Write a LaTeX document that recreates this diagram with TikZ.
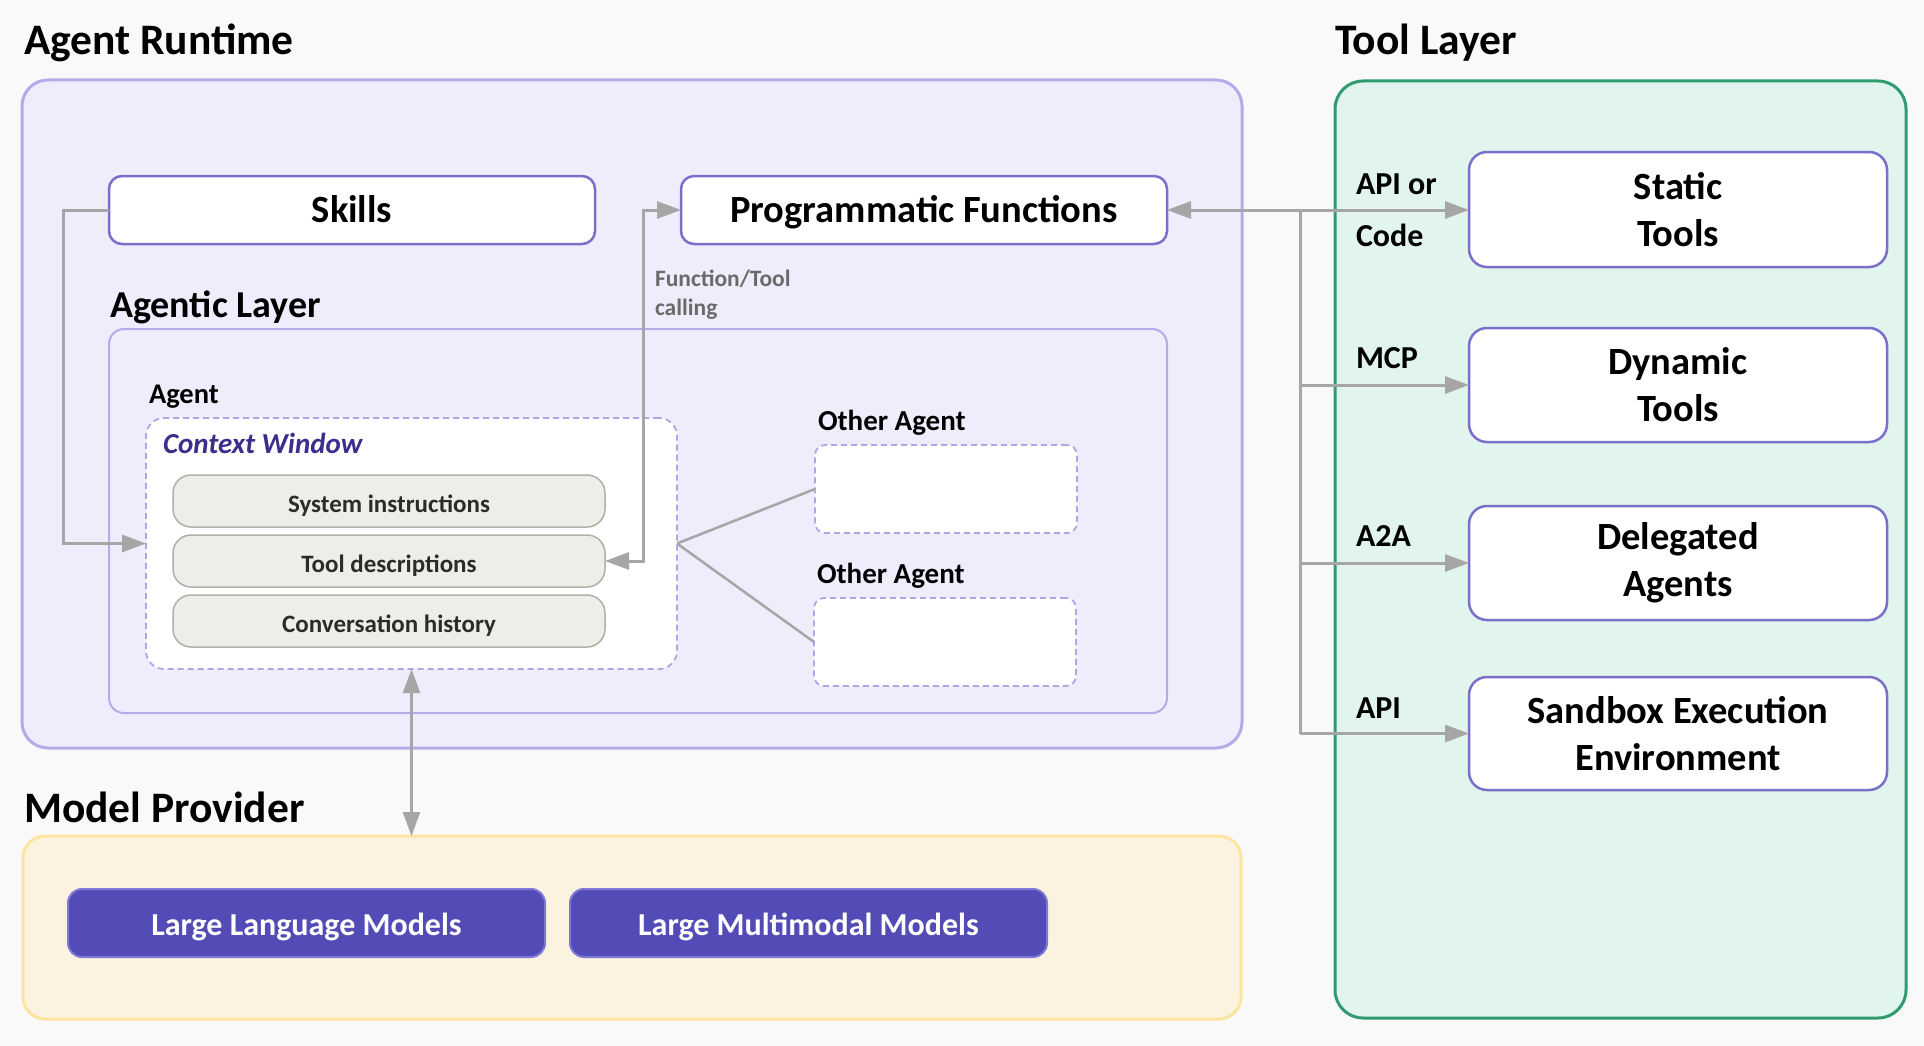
\documentclass[tikz,border=0pt]{standalone}
\usepackage{fontspec}
\setmainfont{Carlito}
\usetikzlibrary{arrows.meta}
\definecolor{bg}{HTML}{F9F9F9}
\definecolor{arfill}{HTML}{EFEDFC}
\definecolor{arline}{HTML}{B4ABE8}
\definecolor{boxline}{HTML}{7B70C9}
\definecolor{tlfill}{HTML}{E1F4EE}
\definecolor{tlline}{HTML}{2F9B6F}
\definecolor{mpfill}{HTML}{FBF3DF}
\definecolor{mpline}{HTML}{FDE4A0}
\definecolor{dashline}{HTML}{B0A6E6}
\definecolor{pillfill}{HTML}{EEEEE8}
\definecolor{pillline}{HTML}{B0B0A8}
\definecolor{llmfill}{HTML}{544CB6}
\definecolor{llmline}{HTML}{8078D8}
\definecolor{arrowc}{HTML}{A6A6A6}
\definecolor{cwtext}{HTML}{3B2E8C}
\definecolor{greytext}{HTML}{6A6A6A}
\definecolor{pilltext}{HTML}{2B2B2B}
\begin{document}
\begin{tikzpicture}[x=1pt,y=-1pt,
  region/.style={draw, inner sep=0pt, outer sep=0pt, line width=3pt},
  wbox/.style={draw=boxline, fill=white, line width=2.5pt, inner sep=0pt, outer sep=0pt, rounded corners=13pt,
    align=center, font=\bfseries\fontsize{38.5}{47}\selectfont},
  oneline/.style={text height=24pt, text depth=0pt},
  tbox/.style={wbox, rounded corners=18pt, minimum width=418pt},
  dbox/.style={draw=dashline, fill=white, line width=1.8pt, dash pattern=on 6pt off 4pt, inner sep=0pt, outer sep=0pt},
  pill/.style={draw=pillline, fill=pillfill, line width=1.5pt, rounded corners=18pt, inner sep=0pt, outer sep=0pt,
    minimum width=432pt, minimum height=52pt, text=pilltext, text height=22pt, text depth=0pt,
    font=\bfseries\fontsize{25}{30}\selectfont},
  mbox/.style={draw=llmline, fill=llmfill, line width=2pt, rounded corners=14pt, inner sep=0pt, outer sep=0pt,
    minimum width=477pt, minimum height=68pt, text=white, text height=24pt, text depth=0pt,
    font=\bfseries\fontsize{32}{36}\selectfont},
  lbl/.style={anchor=base west, inner sep=0pt, outer sep=0pt},
  title/.style={lbl, font=\bfseries\fontsize{43.5}{50}\selectfont},
  side/.style={lbl, font=\bfseries\fontsize{32}{36}\selectfont},
  arr/.style={draw=arrowc, line width=3pt},
  tip/.tip={Triangle[length=24pt, width=17pt]}
]
\fill[bg] (0,0) rectangle (1924,1046);
\useasboundingbox (0,0) rectangle (1924,1046);

% regions
\node[region, draw=arline, fill=arfill, rounded corners=26pt, minimum width=1220pt, minimum height=668pt] (ar) at (632,414) {};
\node[region, draw=tlline, fill=tlfill, rounded corners=28pt, minimum width=571pt, minimum height=937pt] (tl) at (1620.5,549.5) {};
\node[region, draw=mpline, fill=mpfill, rounded corners=22pt, minimum width=1218pt, minimum height=183pt] (mp) at (632,927.5) {};
\node[region, draw=arline, fill=arfill, line width=2pt, rounded corners=15pt, minimum width=1058pt, minimum height=384pt] (al) at (638,521) {};

% titles
\node[title] (tar) at (24,55) {Agent Runtime};
\node[title] (ttl) at (1335,55) {Tool Layer};
\node[title] (tmp) at (24,822) {Model Provider};
\node[lbl, font=\bfseries\fontsize{38}{42}\selectfont] (tal) at (110,317) {Agentic Layer};

% top boxes
\node[wbox, oneline, minimum width=486pt, minimum height=68pt] (sk) at (352,210) {Skills};
\node[wbox, oneline, minimum width=486pt, minimum height=68pt] (pf) at (924,210) {Programmatic Functions};

% agent
\node[lbl, font=\bfseries\fontsize{28.5}{34}\selectfont] (tag) at (149,403) {Agent};
\node[dbox, rounded corners=18pt, minimum width=531pt, minimum height=251pt] (cw) at (411.5,543.5) {};
\node[lbl, text=cwtext, font=\bfseries\itshape\fontsize{29}{34}\selectfont] (tcw) at (163,453) {Context Window};
\node[pill] (si) at (389,501) {System instructions};
\node[pill] (td) at (389,561) {Tool descriptions};
\node[pill] (ch) at (389,621) {Conversation history};

% other agents
\node[lbl, font=\bfseries\fontsize{29}{34}\selectfont] (toa1) at (818,430) {Other Agent};
\node[dbox, rounded corners=10pt, minimum width=262pt, minimum height=88pt] (oa1) at (946,489) {};
\node[lbl, font=\bfseries\fontsize{29}{34}\selectfont] (toa2) at (817,583) {Other Agent};
\node[dbox, rounded corners=10pt, minimum width=262pt, minimum height=88pt] (oa2) at (945,642) {};

% function/tool calling label
\node[lbl, text=greytext, font=\bfseries\fontsize{23.5}{28}\selectfont] (fc1) at (655,286) {Function/Tool};
\node[lbl, text=greytext, font=\bfseries\fontsize{23.5}{28}\selectfont] (fc2) at (655,315) {calling};

% models
\node[mbox] (llm) at (306.5,923) {Large Language Models};
\node[mbox] (lmm) at (808.5,923) {Large Multimodal Models};

% tool boxes
\node[tbox, minimum height=115pt] (st) at (1678,209.5) {Static\\Tools};
\node[tbox, minimum height=114pt] (dy) at (1678,385) {Dynamic\\Tools};
\node[tbox, minimum height=114pt] (de) at (1678,563) {Delegated\\Agents};
\node[tbox, minimum height=113pt] (sb) at (1678,733.5) {Sandbox Execution\\Environment};

% side labels
\node[side] (lapi) at (1356,194) {API or};
\node[side] (lcode) at (1356,246) {Code};
\node[side] (lmcp) at (1356,368) {MCP};
\node[side] (la2a) at (1356,546) {A2A};
\node[side] (lapi2) at (1356,718) {API};

% connectors
\coordinate (tk) at (1300,0);
\draw[arr, tip-tip] (pf.east) -- (pf.east -| st.west);
\draw[arr] (tk |- pf.east) -- (tk |- sb.west);
\foreach \n in {dy,de,sb} \draw[arr, -tip] (tk |- \n.west) -- (\n.west);

\draw[arr, -tip] (sk.west) -- ++(-46,0) |- (cw.west);
\draw[arr, tip-tip] (td.east) -- ++(38,0) |- (pf.west);
\draw[arr, line width=2.5pt] (cw.east) -- (oa1.west);
\draw[arr, line width=2.5pt] (cw.east) -- (oa2.west);
\draw[arr, line width=2.5pt, tip-tip] (cw.south) -- (cw.south |- mp.north);
\end{tikzpicture}
\end{document}
